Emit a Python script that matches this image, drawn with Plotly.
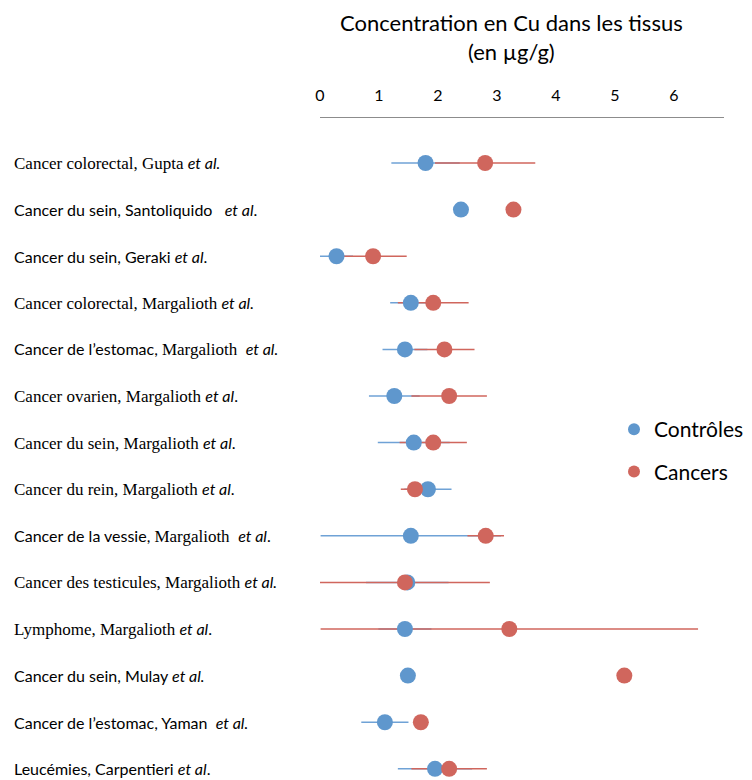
import plotly.graph_objects as go

categories = ["Gupta", "Santoliquido", "Geraki", "Colorectal M", "Estomac M", "Ovarien M",
              "Sein M", "Rein M", "Vessie M", "Testicules M", "Lymphome M", "Mulay",
              "Yaman", "Carpentieri"]

SERIF = "Liberation Serif"
SANS = "Lato"
# label segments: (text, font)
labels = [
    [("Cancer colorectal, Gupta ", SERIF), ("<i>et al.</i>", SANS)],
    [("Cancer du sein, Santoliquido   <i>et al</i>.", SANS)],
    [("Cancer du sein, Geraki <i>et al</i>.", SANS)],
    [("Cancer colorectal, Margalioth ", SERIF), ("<i>et al.</i>", SANS)],
    [("Cancer de l’estomac, ", SANS), ("Margalioth  ", SERIF), ("<i>et al.</i>", SANS)],
    [("Cancer ovarien, Margalioth ", SERIF), ("<i>et al</i>.", SANS)],
    [("Cancer du sein, Margalioth ", SERIF), ("<i>et al</i>.", SANS)],
    [("Cancer du rein, Margalioth ", SERIF), ("<i>et al</i>.", SANS)],
    [("Cancer de la vessie, ", SANS), ("Margalioth  ", SERIF), ("<i>et al</i>.", SANS)],
    [("Cancer des testicules, Margalioth ", SERIF), ("<i>et al.</i>", SANS)],
    [("Lymphome, Margalioth ", SERIF), ("<i>et al</i>.", SANS)],
    [("Cancer du sein, Mulay <i>et al.</i>", SANS)],
    [("Cancer de l’estomac, Yaman  <i>et al.</i>", SANS)],
    [("Leucémies, Carpentieri <i>et al</i>.", SANS)],
]

controles = [1.79, 2.39, 0.28, 1.54, 1.44, 1.26, 1.59, 1.83, 1.54, 1.48, 1.44, 1.49, 1.10, 1.95]
controles_err = [0.58, 0, 0.28, 0.35, 0.38, 0.43, 0.61, 0.40, 1.53, 0.70, 0.45, 0, 0.40, 0.63]
cancers = [2.80, 3.28, 0.90, 1.92, 2.11, 2.19, 1.92, 1.61, 2.81, 1.44, 3.21, 5.16, 1.71, 2.19]
cancers_err = [0.85, 0, 0.57, 0.60, 0.51, 0.64, 0.57, 0.24, 0.31, 1.44, 3.20, 0, 0, 0.64]

x_ticks = [0, 1, 2, 3, 4, 5, 6]

BLUE = "#5F97CD"
RED = "#D0665D"

fig = go.Figure()

# error bars first (below all markers)
fig.add_trace(go.Scatter(x=controles, y=categories, mode="markers",
                         marker=dict(size=1, opacity=0),
                         error_x=dict(type="data", array=controles_err, symmetric=True,
                                      width=0, thickness=1.5, color="#6FA2D6"),
                         showlegend=False, hoverinfo="skip"))
fig.add_trace(go.Scatter(x=cancers, y=categories, mode="markers",
                         marker=dict(size=1, opacity=0),
                         error_x=dict(type="data", array=cancers_err, symmetric=True,
                                      width=0, thickness=1.5, color=RED),
                         showlegend=False, hoverinfo="skip"))
fig.add_trace(go.Scatter(x=controles, y=categories, mode="markers", name="Contrôles",
                         legendgroup="a",
                         marker=dict(size=16, color=BLUE, line=dict(width=0))))
fig.add_trace(go.Scatter(x=cancers, y=categories, mode="markers", name="Cancers",
                         legendgroup="b",
                         marker=dict(size=16, color=RED, line=dict(width=0))))

annotations = []
for cat, segs in zip(categories, labels):
    txt = "".join(
        f'<span style="font-family:{f};font-size:{"17px" if f == SERIF else "16px"}">{t}</span>'
        for t, f in segs)
    annotations.append(dict(x=12 / 752, xref="paper", y=cat, yref="y", text=txt,
                            showarrow=False, xanchor="left", yanchor="middle",
                            font=dict(size=16, color="#000000", family=SANS)))

annotations.append(dict(x=511 / 752, xref="paper", y=(780 - 7) / 662, yref="paper",
                        text="Concentration en Cu dans les tissus<br>(en µg/g)",
                        showarrow=False, xanchor="center", yanchor="top",
                        font=dict(size=22, color="#000000", family="Lato")))

fig.update_layout(
    width=752, height=780,
    margin=dict(l=0, r=0, t=118, b=0, autoexpand=False),
    paper_bgcolor="white", plot_bgcolor="white",
    xaxis=dict(domain=[320 / 752, 724 / 752], range=[0, 6.85], side="top",
               tickvals=x_ticks, ticktext=[str(v) for v in x_ticks], automargin=False,
               showgrid=False, zeroline=False, showline=True, linecolor="#8C8C8C",
               linewidth=1, ticks="", ticklabelstandoff=10,
               tickfont=dict(size=16, color="#000000", family="Lato")),
    yaxis=dict(type="category", categoryorder="array", categoryarray=categories,
               range=[13.24, -0.966], showticklabels=False, showgrid=False,
               zeroline=False, showline=False, ticks="", automargin=False),
    legend=dict(x=614 / 752, xanchor="left", y=(780 - 409) / 662, yanchor="top",
                font=dict(size=21, color="#000000", family="Lato"),
                traceorder="grouped", tracegroupgap=12, itemsizing="constant",
                itemwidth=30, bgcolor="rgba(0,0,0,0)"),
    annotations=annotations,
    showlegend=True,
)

fig.write_html("out.html", config={"displayModeBar": False},
               post_script="document.body.style.margin='0';")
